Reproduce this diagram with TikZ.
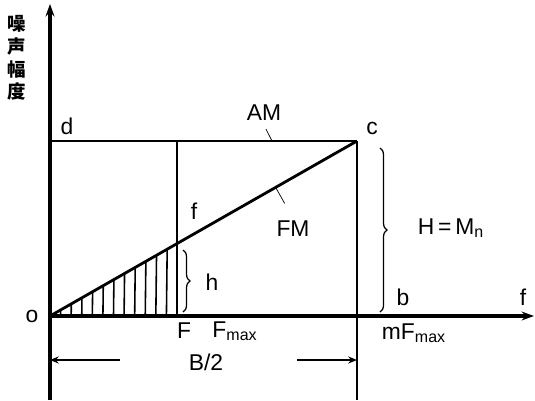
\documentclass[tikz,border=0pt]{standalone}
\usepackage{fontspec}
\setmainfont{Liberation Sans}
\newfontfamily\cjk{Noto Sans CJK SC}
\usetikzlibrary{decorations.pathreplacing,arrows.meta,calc}

\begin{document}
\begin{tikzpicture}[x=0.02cm, y=-0.02cm,
    every node/.style={font=\fontsize{13}{15}\selectfont},
    axis/.style={line width=1.8pt},
    frame/.style={line width=1.6pt},
    thinline/.style={line width=1pt},
    hatch/.style={line width=0.9pt},
    curly/.style={line width=0.7pt, decorate, decoration={brace, amplitude=4pt}}]
    \useasboundingbox (0,0) rectangle (535,400);
    % Key points of the diagram (pixel units, y downwards)
    \coordinate (o) at (50,316);
    \coordinate (ytop) at (50,4);
    \coordinate (ybot) at (50,400);
    \coordinate (xend) at (534,316);
    \coordinate (d) at (50,141);
    \coordinate (c) at (357,141);
    \coordinate (b) at (357,316);
    \coordinate (cbot) at (357,400);
    \coordinate (fd) at (177,141);
    \coordinate (F) at (177,316);
    \coordinate (fa) at ($(o)!0.4164!(c)$);
    % Axes
    \draw[axis,-{Stealth[length=7pt,width=5pt]}] (ybot) -- (ytop);
    \draw[axis,-{Stealth[length=7pt,width=5pt]}] (o) -- (xend);
    % AM line, FM line and verticals
    \draw[frame] (d) -- (c);
    \draw[frame] (c) -- (cbot);
    \draw[thinline] (fd) -- (F);
    \draw[frame] (o) -- (c);
    % Hatching under FM line up to F
    \foreach \i in {1,...,11} {
      \pgfmathsetmacro{\t}{\i/12}
      \draw[hatch] ($(o)!\t!(fa)$) -- ($(o)!\t!(F)$);
    }
    % Braces
    \draw[curly] (183,250) -- (183,312);
    \draw[curly] (380,148) -- (380,312);
    % Labels
    \node (lbly) at (17,58) [align=center, font=\cjk\bfseries\fontsize{10.5}{12}\selectfont, inner sep=0pt]
      {噪\\[1pt]声\\[1pt]幅\\[1pt]度};
    \node (lbld) at (67,126) {d};
    \node (lblc) at (372,128) {c};
    \node (lblam) at (264,113) {AM};
    \node (lblf) at (194,211) {f};
    \node (lblfm) at (293,229) {FM};
    \node (lblh) at (212,282) {h};
    \node (lblH) at (451,228) {H\,=\,M\textsubscript{n}};
    \node (lblb) at (403,297) {b};
    \node (lblfx) at (523,297) {f};
    \node (lblo) at (32,316) {o};
    \node (lblF) at (184,331) {F};
    \node (lblFmax) at (235,331) {F\textsubscript{max}};
    \node (lblmF) at (414,333) {mF\textsubscript{max}};
    \node (lblB) at (206,362) {B/2};
    % Leader ticks to the AM and FM lines
    \coordinate (amtip) at (272,141);
    \coordinate (fmtip) at ($(o)!0.735!(c)$);
    \draw[thin] (lblam.south) ++(2,2) -- (amtip);
    \draw[thin] (fmtip) -- ++(9,16);
    % B/2 dimension
    \coordinate (dl) at (120,360);
    \coordinate (dr) at (297,360);
    \draw[thinline,-{Stealth[length=5pt,width=4pt]}] (dl) -- (50,360);
    \draw[thinline,-{Stealth[length=5pt,width=4pt]}] (dr) -- (357,360);
\end{tikzpicture}
\end{document}
